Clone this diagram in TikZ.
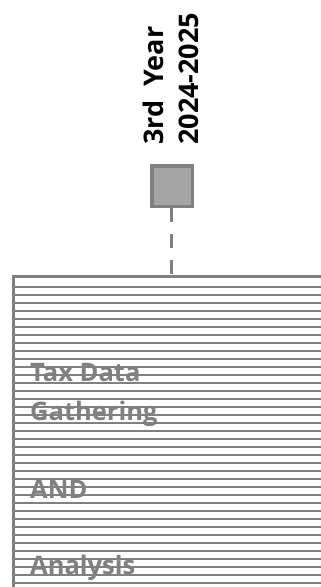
\documentclass[tikz,border=0pt]{standalone}
\usepackage{fontspec}
\setmainfont{Open Sans}
\definecolor{linegray}{HTML}{808080}
\definecolor{boxfill}{HTML}{A5A5A5}
\tikzset{
  head/.style={rotate=90, anchor=base west, inner sep=0pt, font=\bfseries\fontsize{27}{30}\selectfont, text=black},
  boxtext/.style={anchor=base west, inner sep=0pt, font=\bfseries\fontsize{25.5}{30}\selectfont, text=linegray},
  stripe/.style={draw=linegray, line width=2pt},
  marker/.style={draw=linegray, fill=boxfill, line width=3.5pt, minimum size=40.5pt, inner sep=0pt, rectangle},
  conn/.style={draw=linegray, line width=3pt, dash pattern=on 14pt off 12pt}
}
\begin{document}
\begin{tikzpicture}[x=1pt,y=-1pt]
\useasboundingbox (0,0) rectangle (321,587);
% header
\node[head] (year) at (163,145) {3rd\ \ Year};
\node[head] (dates) at (198,145) {2024-2025};
% marker
\node[marker] (sq) at (172,186) {};
% texts
\node[boxtext] (t1) at (30,381.5) {Tax Data};
\node[boxtext] (t2) at (30,420) {Gathering};
\node[boxtext] (t3) at (30,498) {AND};
\node[boxtext] (t4) at (30,574) {Analysis};
% stripes
\foreach \k in {0,...,37}{
  \draw[stripe] (15,287+8*\k) -- (321,287+8*\k);
}
% box border
\coordinate (tl) at (13.5,276.5);
\coordinate (tr) at (321,276.5);
\coordinate (bl) at (13.5,587);
\draw[draw=linegray, line width=3pt] (bl) -- (tl) -- (tr);
% connector
\coordinate (top) at (171,276.5);
\draw[conn] (sq.south -| top) -- (top);
\end{tikzpicture}
\end{document}
